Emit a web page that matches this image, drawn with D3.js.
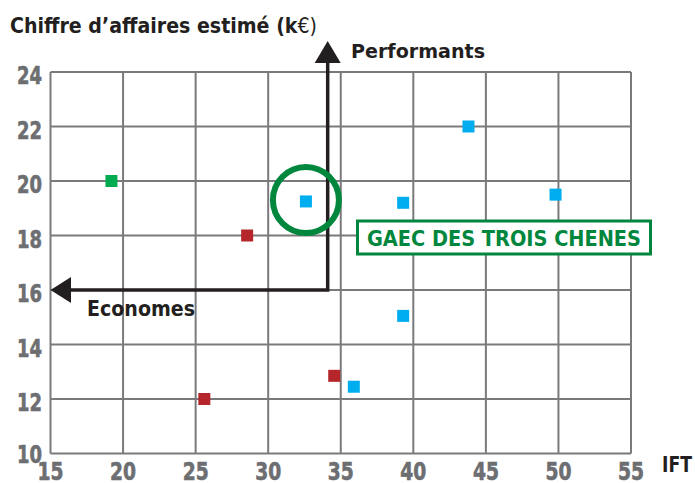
<!DOCTYPE html>
<html>
<head>
<meta charset="utf-8">
<script src="https://cdn.jsdelivr.net/npm/d3@7"></script>
<style>
  body { margin: 0; background: #fff; }
  text { font-family: "DejaVu Sans Condensed", "Liberation Sans Narrow", sans-serif; font-weight: bold; }
</style>
</head>
<body>
<div id="container"></div>
<script>
// farms: IFT vs estimated turnover (k€)
var greenFarms = [[19.2, 20.0]];
var redFarms = [[28.55, 18.0], [25.6, 12.0], [34.55, 12.85]];
var blueFarms = [[32.6, 19.25], [39.3, 19.2], [43.8, 22.0], [49.8, 19.5], [39.3, 15.05], [35.9, 12.45]];
var xTicks = [15, 20, 25, 30, 35, 40, 45, 50, 55];
var yTicks = [10, 12, 14, 16, 18, 20, 22, 24];
// quadrant corner, highlighted farm
var splitIFT = 34.1, splitCA = 16;
var highlight = [32.6, 19.3];

var width = 695, height = 483;
var svg = d3.select('#container').append('svg')
  .attr('width', width)
  .attr('height', height);

var x = d3.scaleLinear().domain([15, 55]).range([50.5, 631]);
var y = d3.scaleLinear().domain([10, 24]).range([453.5, 72]);

var gridColor = '#7a7a7d', tickColor = '#6d6e71', ink = '#231f20';

// grid
svg.append('g').selectAll('line.v')
  .data(xTicks).enter().append('line')
  .attr('x1', function(d) { return x(d); })
  .attr('x2', function(d) { return x(d); })
  .attr('y1', y(24)).attr('y2', y(10))
  .attr('stroke', gridColor).attr('stroke-width', 2);
svg.append('g').selectAll('line.h')
  .data(yTicks).enter().append('line')
  .attr('y1', function(d) { return y(d); })
  .attr('y2', function(d) { return y(d); })
  .attr('x1', x(15)).attr('x2', x(55))
  .attr('stroke', gridColor).attr('stroke-width', 2);

// tick labels
svg.append('g').selectAll('text')
  .data(xTicks).enter().append('text')
  .attr('x', function(d) { return x(d); })
  .attr('y', 480)
  .attr('text-anchor', 'middle')
  .attr('fill', tickColor).attr('stroke', tickColor).attr('stroke-width', 0.6)
  .attr('font-size', 24)
  .attr('textLength', 26).attr('lengthAdjust', 'spacingAndGlyphs')
  .text(function(d) { return d; });
svg.append('g').selectAll('text')
  .data(yTicks).enter().append('text')
  .attr('x', 42)
  .attr('y', function(d) { return y(d) + (d === 10 ? 9 : 12); })
  .attr('text-anchor', 'end')
  .attr('fill', tickColor).attr('stroke', tickColor).attr('stroke-width', 0.6)
  .attr('font-size', 24)
  .attr('textLength', 25).attr('lengthAdjust', 'spacingAndGlyphs')
  .text(function(d) { return d; });

// axis titles
var title = svg.append('text')
  .attr('x', 10).attr('y', 33)
  .attr('font-size', 21).attr('fill', ink)
  .attr('textLength', 307).attr('lengthAdjust', 'spacingAndGlyphs');
title.append('tspan').text('Chiffre d\u2019affaires estimé (k');
title.append('tspan').attr('font-weight', 'normal').text('€)');
svg.append('text')
  .attr('x', 662).attr('y', 472)
  .attr('font-size', 22).attr('fill', ink)
  .attr('textLength', 30).attr('lengthAdjust', 'spacingAndGlyphs')
  .text('IFT');

// quadrant arrows
var cx = x(splitIFT), cy = y(splitCA);
svg.append('path')
  .attr('d', 'M' + cx + ',62 L' + cx + ',' + cy + ' L70,' + cy)
  .attr('fill', 'none').attr('stroke', ink).attr('stroke-width', 3.5);
svg.append('path')
  .attr('d', 'M' + cx + ',41 L' + (cx - 13) + ',63 L' + (cx + 13) + ',63 Z')
  .attr('fill', ink);
svg.append('path')
  .attr('d', 'M' + x(15) + ',' + cy + ' L71,' + (cy - 13) + ' L71,' + (cy + 13) + ' Z')
  .attr('fill', ink);
svg.append('text')
  .attr('x', 351).attr('y', 58)
  .attr('font-size', 20).attr('fill', ink)
  .attr('textLength', 134).attr('lengthAdjust', 'spacingAndGlyphs')
  .text('Performants');
svg.append('text')
  .attr('x', 87).attr('y', 316)
  .attr('font-size', 21).attr('fill', ink)
  .attr('textLength', 108).attr('lengthAdjust', 'spacingAndGlyphs')
  .text('Economes');

// farms
function drawFarms(data, color) {
  svg.append('g').selectAll('rect')
    .data(data).enter().append('rect')
    .attr('x', function(d) { return x(d[0]) - 6; })
    .attr('y', function(d) { return y(d[1]) - 6; })
    .attr('width', 12).attr('height', 12)
    .attr('fill', color);
}
drawFarms(greenFarms, '#00ac4f');
drawFarms(redFarms, '#b4262a');
drawFarms(blueFarms, '#00aeef');

// highlighted farm
var green = '#00873d';
svg.append('circle')
  .attr('cx', x(highlight[0])).attr('cy', y(highlight[1]))
  .attr('r', 33)
  .attr('fill', 'none').attr('stroke', green).attr('stroke-width', 6);
svg.append('rect')
  .attr('x', 357.5).attr('y', 221)
  .attr('width', 293).attr('height', 33)
  .attr('fill', '#fff').attr('stroke', green).attr('stroke-width', 3);
svg.append('text')
  .attr('x', 367).attr('y', 246)
  .attr('font-size', 22).attr('fill', green)
  .attr('textLength', 274).attr('lengthAdjust', 'spacingAndGlyphs')
  .text('GAEC DES TROIS CHENES');
</script>
</body>
</html>
